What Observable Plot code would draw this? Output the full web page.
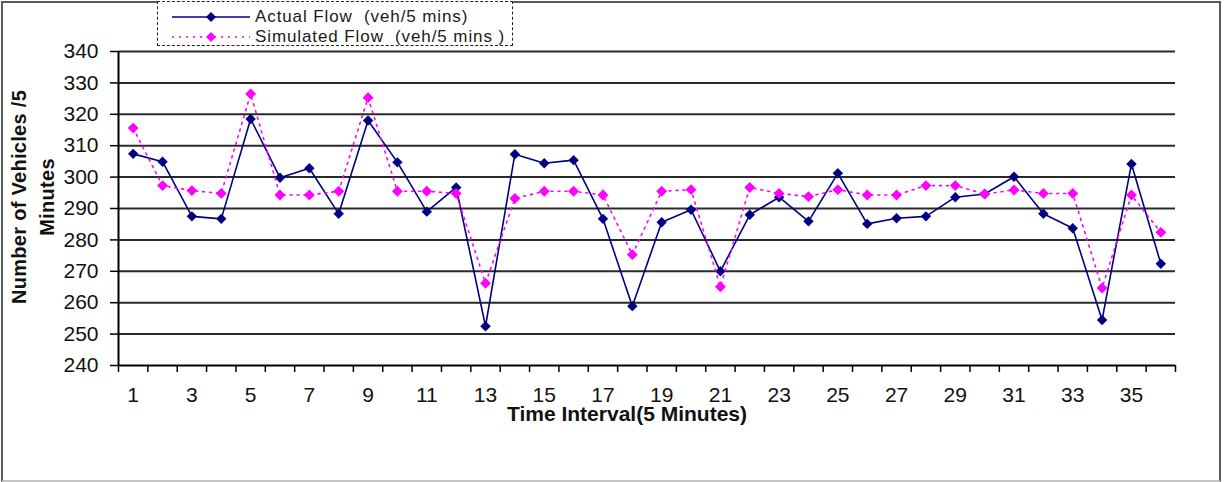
<!DOCTYPE html>
<html>
<head>
<meta charset="utf-8">
<script src="https://cdn.jsdelivr.net/npm/d3@7"></script>
<script src="https://cdn.jsdelivr.net/npm/@observablehq/plot@0.6"></script>
<style>
  html, body { margin: 0; padding: 0; background: #fff; }
  #wrap { position: relative; width: 1225px; height: 482px; overflow: hidden; font-family: "Liberation Sans", Arial, sans-serif; }
  #frame { position: absolute; left: 1px; top: 1px; width: 1216px; height: 477px; border: 2px solid #5a5a5a; border-bottom-color: #c4c4c4; }
  #chart { position: absolute; left: 0; top: 0; }
  #legend { position: absolute; left: 157px; top: 1px; width: 354px; height: 43px; border: 1.5px dashed #222; background: #fff; }
  .lrow { position: absolute; left: 14px; height: 20px; display: flex; align-items: center; font-size: 17px; color: #1a1a1a; letter-spacing: 0.9px; white-space: nowrap; }
  .lrow svg { margin-right: 3px; }
  #xtitle { position: absolute; left: 477px; width: 300px; top: 402px; text-align: center; font-weight: bold; font-size: 21px; color: #111; line-height: 24px; }
  #ytitle { position: absolute; width: 260px; left: -97px; top: 169px; text-align: center; font-weight: bold; font-size: 20px; color: #111; line-height: 28px; transform: rotate(-90deg); letter-spacing: 0.3px; }
</style>
</head>
<body>
<div id="wrap">
  <div id="frame"></div>
  <div id="chart"></div>
  <div id="legend">
    <div class="lrow" style="top:5px;">
      <svg width="80" height="14"><line x1="0" y1="7" x2="78" y2="7" stroke="#000080" stroke-width="1.5"/><path d="M39,2 L44,7 L39,12 L34,7 Z" fill="#000080"/></svg>
      <span>Actual Flow&nbsp; (veh/5 mins)</span>
    </div>
    <div class="lrow" style="top:25px;">
      <svg width="80" height="14"><line x1="0" y1="7" x2="78" y2="7" stroke="#ff00ff" stroke-width="1.5" stroke-dasharray="2,5"/><path d="M39,2 L44,7 L39,12 L34,7 Z" fill="#ff00ff"/></svg>
      <span>Simulated Flow&nbsp; (veh/5 mins )</span>
    </div>
  </div>
  <div id="xtitle">Time Interval(5 Minutes)</div>
  <div id="ytitle">Number of Vehicles /5<br>Minutes</div>
</div>
<script>
// ---- data ----
const intervals = [1,2,3,4,5,6,7,8,9,10,11,12,13,14,15,16,17,18,19,20,21,22,23,24,25,26,27,28,29,30,31,32,33,34,35,36];
const actualFlow = [307.4, 304.9, 287.5, 286.7, 318.5, 299.8, 302.8, 288.3, 318, 304.7, 289, 296.7, 252.5, 307.3, 304.4, 305.4, 286.7, 258.9, 285.6, 289.6, 270, 288, 293.6, 285.9, 301.2, 285.1, 286.9, 287.5, 293.6, 294.6, 300.1, 288.3, 283.7, 254.5, 304.2, 272.4];
const simulatedFlow = [315.6, 297.3, 295.7, 294.8, 326.5, 294.3, 294.3, 295.5, 325.3, 295.5, 295.5, 294.8, 266.2, 293.2, 295.5, 295.5, 294.3, 275.3, 295.5, 296, 265.1, 296.7, 294.8, 293.8, 296, 294.3, 294.3, 297.3, 297.3, 294.6, 295.9, 294.8, 294.8, 264.7, 294.3, 282.4];
const xTickLabels = [1,3,5,7,9,11,13,15,17,19,21,23,25,27,29,31,33,35];
const yTickValues = [240,250,260,270,280,290,300,310,320,330,340];

const actualData = intervals.map((t, i) => ({t, v: actualFlow[i]}));
const simData = intervals.map((t, i) => ({t, v: simulatedFlow[i]}));
// category boundaries (ticks between categories)
const bounds = intervals.map(t => t - 0.5).concat([intervals[intervals.length - 1] + 0.5]);

const chart = Plot.plot({
  width: 1225,
  height: 482,
  marginLeft: 118,
  marginRight: 50,
  marginTop: 51,
  marginBottom: 117,
  x: {domain: [bounds[0], bounds[bounds.length - 1]]},
  y: {domain: [240, 340]},
  style: {fontFamily: "'Liberation Sans', Arial, sans-serif", fontSize: "21px", color: "#111", background: "transparent", overflow: "visible"},
  marks: [
    Plot.ruleY(yTickValues.slice(1), {stroke: "#2a2a2a", strokeWidth: 2}),
    Plot.axisY({ticks: yTickValues, tickSize: 8, tickPadding: 12, label: null, stroke: "#000", strokeWidth: 1.5, fontSize: 21}),
    Plot.axisX({ticks: bounds, tickSize: 7, tickFormat: () => "", label: null, stroke: "#000", strokeWidth: 1.5}),
    Plot.axisX({ticks: xTickLabels, tickSize: 0, tickPadding: 22, label: null, fontSize: 21}),
    Plot.ruleY([240], {stroke: "#000", strokeWidth: 2}),
    Plot.ruleX([bounds[0]], {stroke: "#000", strokeWidth: 2}),
    Plot.line(actualData, {x: "t", y: "v", stroke: "#000080", strokeWidth: 1.6}),
    Plot.dot(actualData, {x: "t", y: "v", symbol: "diamond2", r: 4.7, fill: "#000080", stroke: "none"}),
    Plot.line(simData, {x: "t", y: "v", stroke: "#ff00ff", strokeWidth: 1.6, strokeDasharray: "2,5"}),
    Plot.dot(simData, {x: "t", y: "v", symbol: "diamond2", r: 4.9, fill: "#ff00ff", stroke: "none"})
  ]
});
document.getElementById("chart").appendChild(chart);
</script>
</body>
</html>
